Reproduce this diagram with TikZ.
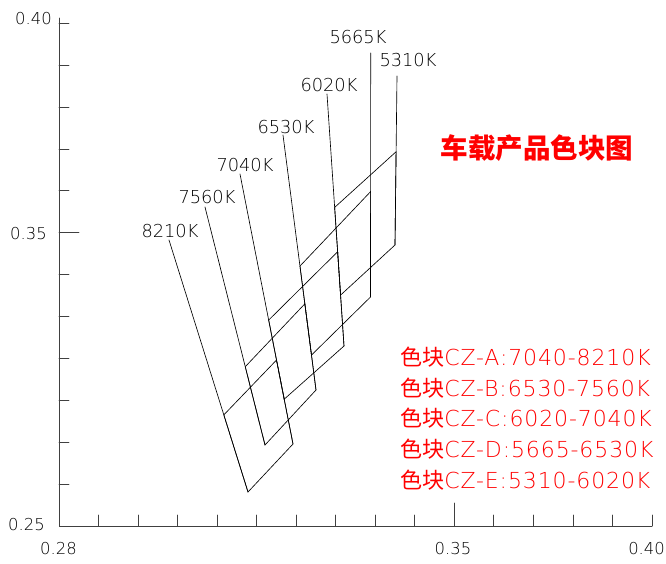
\documentclass[tikz,border=0pt]{standalone}
\usepackage{fontspec}
\newfontfamily\cadfont{DejaVu Sans ExtraLight}
\newfontfamily\cadlarga{DejaVu Sans ExtraLight}[LetterSpace=4]
\newfontfamily\cjkfont{Noto Sans CJK SC}
\usepackage{tikz, tkz-euclide}
\usetikzlibrary{calc}

\begin{document}
\begin{tikzpicture}[x=0.3mm, y=-0.3mm, line cap=round,
	linea/.style={black, line width=0.55pt},
	asse/.style={black!75, line width=0.6pt},
	numero/.style={font=\cadfont\fontsize{14}{16}\selectfont, inner sep=0pt},
	temp/.style={font=\cadfont\fontsize{15.2}{17}\selectfont, inner sep=0pt},
	legenda/.style={red, anchor=west, inner sep=0pt, font=\cadlarga\fontsize{18.8}{21}\selectfont},
	titolo/.style={red, inner sep=0pt, font=\cjkfont\bfseries\fontsize{23.5}{28}\selectfont}]
		\useasboundingbox (0,0) rectangle (666,563);
		
		%%% Assi
		\tkzDefPoints{59/526/O, 59/18/Ymax, 652/526/Xmax}
		\draw[asse] (Ymax) -- (O) -- (Xmax);
		\foreach \i in {1,...,9,11,12,...,15}
		\draw[asse] (59+39.53*\i,526) -- ++(0,-11);
		\draw[asse] (59+39.53*10,526) -- ++(0,-23);
		\foreach \j in {0,...,4,6,7,...,11}
		\draw[asse] (59,23.3+41.87*\j) -- ++(10,0);
		\draw[asse] (59,23.3+41.87*5) -- ++(20,0);
		
		\node[numero, anchor=east] (y40) at (52,18.5) {0.40};
		\node[numero, anchor=east] (y35) at (47,234) {0.35};
		\node[numero, anchor=east] (y25) at (45,525) {0.25};
		\node[numero] (x28) at (58.5,549) {0.28};
		\node[numero] (x35) at (453,549) {0.35};
		\node[numero, anchor=east] (x40) at (665,549) {0.40};
		
		%%% Rette isoterme (a = alto, b = basso)
		\tkzDefPoints{169/240/a8210, 248/492/b8210,
			205/207/a7560, 265/445/b7560,
			240/174/a7040, 293/444/b7040,
			283/135/a6530, 316/390/b6530,
			327/94/a6020, 344/346/b6020,
			370.7/53/a5665, 370.5/297/b5665,
			397/76/a5310, 395/245/b5310}
		\foreach \k in {8210,7560,7040,6530,6020,5665,5310}
		\draw[linea] (a\k) -- (b\k);
		
		\node[temp] (l8210) at (170,231) {8210K};
		\node[temp] (l7560) at (207,197) {7560K};
		\node[temp] (l7040) at (245,165) {7040K};
		\node[temp] (l6530) at (286,127) {6530K};
		\node[temp] (l6020) at (329,85) {6020K};
		\node[temp] (l5665) at (358,37) {5665K};
		\node[temp] (l5310) at (408,60) {5310K};
		
		%%% Vertici dei blocchi
		\coordinate (A1) at ($(a8210)!0.694!(b8210)$);
		\coordinate (A2) at ($(a7040)!0.689!(b7040)$);
		\coordinate (B1) at ($(a7560)!0.671!(b7560)$);
		\coordinate (B2) at ($(a6530)!0.662!(b6530)$);
		\coordinate (C0) at ($(a7040)!0.834!(b7040)$);
		\coordinate (C1) at ($(a7040)!0.541!(b7040)$);
		\coordinate (C2) at ($(a6020)!0.626!(b6020)$);
		\coordinate (D0) at ($(a6530)!0.863!(b6530)$);
		\coordinate (D1) at ($(a6530)!0.514!(b6530)$);
		\coordinate (D2) at ($(a5665)!0.568!(b5665)$);
		\coordinate (E0) at ($(a6020)!0.798!(b6020)$);
		\coordinate (E1) at ($(a6020)!0.450!(b6020)$);
		\coordinate (E2) at ($(a5310)!0.448!(b5310)$);
		
		%%% Blocchi
		\draw[linea] (b8210) -- (b7040) -- (A2) -- (A1) -- cycle;	% CZ-A
		\draw[linea] (b7560) -- (b6530) -- (B2) -- (B1) -- cycle;	% CZ-B
		\draw[linea] (C0) -- (b6020) -- (C2) -- (C1) -- cycle;		% CZ-C
		\draw[linea] (D0) -- (b5665) -- (D2) -- (D1) -- cycle;		% CZ-D
		\draw[linea] (E0) -- (b5310) -- (E2) -- (E1) -- cycle;		% CZ-E
		
		%%% Testi
		\node[titolo] (tit) at (537,148) {车载产品色块图};
		\node[legenda] (cza) at (400,357) {{\cjkfont 色块}CZ-A:7040-8210K};
		\node[legenda] (czb) at (400,388) {{\cjkfont 色块}CZ-B:6530-7560K};
		\node[legenda] (czc) at (400,418) {{\cjkfont 色块}CZ-C:6020-7040K};
		\node[legenda] (czd) at (400,449) {{\cjkfont 色块}CZ-D:5665-6530K};
		\node[legenda] (cze) at (400,480) {{\cjkfont 色块}CZ-E:5310-6020K};
	\end{tikzpicture}
\end{document}
